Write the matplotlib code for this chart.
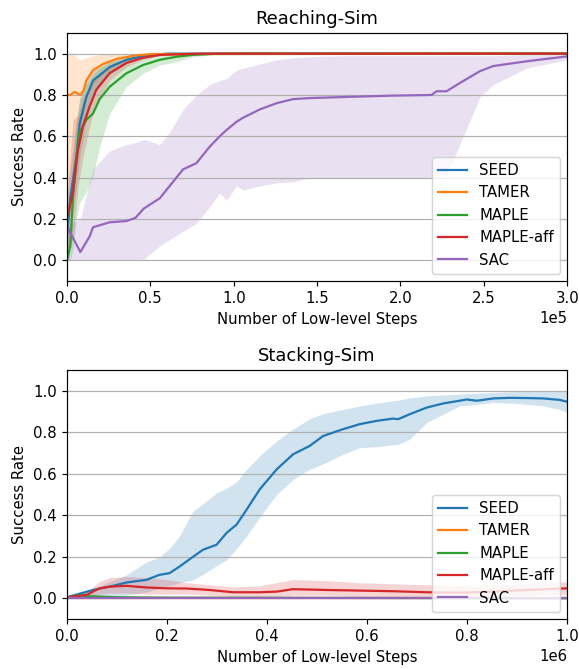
import matplotlib
matplotlib.use("Agg")
import matplotlib.pyplot as plt

labels = ["SEED", "TAMER", "MAPLE", "MAPLE-aff", "SAC"]
colors = ["tab:blue", "tab:orange", "tab:green", "tab:red", "tab:purple"]

# ---- Reaching-Sim (x in units of 1e5 steps) ----
reach_seed_x = [0, 0.02, 0.056, 0.076, 0.116, 0.156, 0.256, 0.356, 0.456, 0.6, 3.0]
reach_seed_mean = [0.12, 0.3, 0.5, 0.66, 0.79, 0.87, 0.935, 0.97, 0.99, 1.0, 1.0]
reach_seed_lo = [0.0, 0.15, 0.35, 0.5, 0.68, 0.8, 0.9, 0.95, 0.98, 0.995, 1.0]
reach_seed_hi = [0.3, 0.45, 0.65, 0.78, 0.87, 0.92, 0.96, 0.985, 0.997, 1.0, 1.0]

reach_tamer_x = [0, 0.02, 0.046, 0.08, 0.1, 0.116, 0.156, 0.216, 0.3, 0.4, 0.5, 3.0]
reach_tamer_mean = [0.80, 0.80, 0.815, 0.80, 0.823, 0.87, 0.92, 0.95, 0.975, 0.99, 0.998, 1.0]
reach_tamer_lo = [0.0, 0.3, 0.55, 0.65, 0.72, 0.78, 0.85, 0.9, 0.95, 0.98, 0.996, 1.0]
reach_tamer_hi = [1.0, 1.0, 0.99, 0.97, 0.975, 0.98, 0.99, 0.995, 1.0, 1.0, 1.0, 1.0]

reach_maple_x = [0, 0.02, 0.036, 0.056, 0.076, 0.116, 0.156, 0.196, 0.256, 0.356,
                 0.456, 0.556, 0.656, 0.756, 0.9, 3.0]
reach_maple_mean = [0.0, 0.07, 0.31, 0.49, 0.62, 0.68, 0.71, 0.78, 0.84, 0.905,
                    0.945, 0.97, 0.985, 0.994, 1.0, 1.0]
reach_maple_lo = [0.0, 0.0, 0.05, 0.2, 0.28, 0.33, 0.41, 0.55, 0.71, 0.84,
                  0.905, 0.945, 0.96, 0.985, 0.998, 1.0]
reach_maple_hi = [0.0, 0.25, 0.5, 0.68, 0.78, 0.85, 0.9, 0.93, 0.96, 0.98,
                  0.99, 0.995, 1.0, 1.0, 1.0, 1.0]

reach_aff_x = [0, 0.036, 0.066, 0.096, 0.136, 0.176, 0.256, 0.356, 0.456, 0.556, 0.8, 3.0]
reach_aff_mean = [0.2, 0.33, 0.535, 0.65, 0.745, 0.826, 0.906, 0.955, 0.98, 0.994, 1.0, 1.0]
reach_aff_lo = [0.05, 0.1, 0.35, 0.5, 0.65, 0.76, 0.87, 0.935, 0.97, 0.99, 1.0, 1.0]
reach_aff_hi = [0.3, 0.68, 0.7, 0.78, 0.84, 0.89, 0.94, 0.975, 0.99, 0.998, 1.0, 1.0]

reach_sac_x = [0, 0.08, 0.136, 0.156, 0.256, 0.356, 0.41, 0.46, 0.556, 0.616, 0.696,
               0.776, 0.856, 0.916, 0.956, 1.016, 1.056, 1.156, 1.256, 1.356, 1.456,
               1.656, 1.956, 2.186, 2.216, 2.276, 2.356, 2.476, 2.556, 2.756, 3.0]
reach_sac_mean = [0.165, 0.04, 0.116, 0.16, 0.184, 0.19, 0.205, 0.25, 0.30, 0.36, 0.44,
                  0.47, 0.55, 0.60, 0.63, 0.67, 0.69, 0.73, 0.76, 0.78, 0.785,
                  0.79, 0.797, 0.80, 0.818, 0.818, 0.858, 0.915, 0.94, 0.963, 0.987]
reach_sac_lo = [0.0, 0.0, 0.0, 0.0, 0.0, 0.0, 0.0, 0.005, 0.07, 0.10, 0.14,
                0.18, 0.26, 0.325, 0.29, 0.36, 0.34, 0.36, 0.374, 0.38, 0.40,
                0.40, 0.40, 0.40, 0.40, 0.41, 0.56, 0.79, 0.85, 0.93, 0.97]
reach_sac_hi = [0.17, 0.2, 0.38, 0.44, 0.53, 0.56, 0.57, 0.585, 0.56, 0.62, 0.73,
                0.8, 0.85, 0.87, 0.88, 0.92, 0.93, 0.95, 0.97, 0.98, 0.985,
                0.99, 0.99, 0.99, 0.99, 0.99, 0.99, 0.99, 0.99, 0.995, 0.995]

# ---- Stacking-Sim (x in units of 1e6 steps) ----
stack_seed_x = [0, 0.052, 0.085, 0.119, 0.159, 0.185, 0.205, 0.225, 0.252, 0.272, 0.299,
                0.319, 0.339, 0.359, 0.385, 0.419, 0.452, 0.485, 0.512, 0.552, 0.585,
                0.619, 0.652, 0.662, 0.685, 0.719, 0.752, 0.785, 0.799, 0.819, 0.852,
                0.885, 0.919, 0.952, 0.985, 1.0]
stack_seed_mean = [0.005, 0.04, 0.056, 0.076, 0.089, 0.113, 0.121, 0.153, 0.20, 0.234, 0.258,
                   0.315, 0.355, 0.427, 0.524, 0.621, 0.694, 0.734, 0.782, 0.815, 0.839,
                   0.855, 0.866, 0.863, 0.887, 0.919, 0.939, 0.952, 0.958, 0.952, 0.963,
                   0.966, 0.965, 0.963, 0.956, 0.947]
stack_seed_lo = [0.0, 0.0, 0.005, 0.015, 0.03, 0.048, 0.06, 0.075, 0.089, 0.115, 0.157,
                 0.185, 0.24, 0.3, 0.39, 0.5, 0.573, 0.621, 0.648, 0.694, 0.726,
                 0.73, 0.74, 0.742, 0.766, 0.847, 0.887, 0.927, 0.93, 0.935, 0.944,
                 0.94, 0.935, 0.927, 0.91, 0.895]
stack_seed_hi = [0.01, 0.045, 0.08, 0.113, 0.175, 0.2, 0.24, 0.3, 0.42, 0.455, 0.508,
                 0.53, 0.56, 0.621, 0.686, 0.758, 0.815, 0.865, 0.89, 0.91, 0.927,
                 0.94, 0.952, 0.955, 0.965, 0.976, 0.98, 0.984, 0.986, 0.988, 0.992,
                 0.995, 0.997, 0.997, 0.997, 0.997]

stack_zero_x = [0, 1.0]
stack_zero = [0.0, 0.0]

stack_maple_x = [0, 0.02, 0.04, 0.1, 0.2, 0.5, 1.0]
stack_maple_mean = [0.0, 0.015, 0.01, 0.005, 0.003, 0.002, 0.0]
stack_maple_lo = [0.0, 0.0, 0.0, 0.0, 0.0, 0.0, 0.0]
stack_maple_hi = [0.0, 0.025, 0.02, 0.01, 0.006, 0.004, 0.0]

stack_aff_x = [0, 0.039, 0.065, 0.085, 0.119, 0.159, 0.199, 0.239, 0.285, 0.332, 0.385,
               0.419, 0.452, 0.519, 0.585, 0.652, 0.719, 0.785, 0.852, 0.919, 1.0]
stack_aff_mean = [0.005, 0.016, 0.048, 0.056, 0.06, 0.052, 0.048, 0.047, 0.04, 0.029, 0.029,
                  0.032, 0.044, 0.04, 0.037, 0.034, 0.029, 0.027, 0.032, 0.04, 0.048]
stack_aff_lo = [0.0, 0.005, 0.02, 0.025, 0.025, 0.02, 0.02, 0.02, 0.015, 0.01, 0.01,
                0.01, 0.015, 0.015, 0.01, 0.01, 0.01, 0.008, 0.01, 0.015, 0.02]
stack_aff_hi = [0.01, 0.03, 0.08, 0.1, 0.105, 0.1, 0.09, 0.075, 0.065, 0.055, 0.06,
                0.075, 0.09, 0.085, 0.075, 0.07, 0.065, 0.06, 0.065, 0.07, 0.08]


def draw_panel(ax, series, scale, xmax, title):
    for (x, mean, lo, hi), label, color in zip(series, labels, colors):
        xs = [v * scale for v in x]
        ax.fill_between(xs, lo, hi, color=color, alpha=0.2, linewidth=0)
        ax.plot(xs, mean, color=color, label=label, linewidth=1.5)
    ax.set_xlim(0, xmax)
    ax.set_ylim(-0.1, 1.1)
    ax.grid(axis='y')
    ax.ticklabel_format(style='sci', axis='x', scilimits=(0, 0))
    ax.set_title(title)
    ax.set_xlabel('Number of Low-level Steps')
    ax.set_ylabel('Success Rate')
    ax.legend(loc='lower right')


def main():
    # reference looks like it was drawn slightly larger, so bump the dpi
    dpi = 107
    fig = plt.figure(figsize=(579 / dpi, 669 / dpi), dpi=dpi)
    ax1 = fig.add_axes([0.1157, 0.580, 0.864, 0.3707])
    ax2 = fig.add_axes([0.1157, 0.0747, 0.864, 0.3722])

    reach = [
        (reach_seed_x, reach_seed_mean, reach_seed_lo, reach_seed_hi),
        (reach_tamer_x, reach_tamer_mean, reach_tamer_lo, reach_tamer_hi),
        (reach_maple_x, reach_maple_mean, reach_maple_lo, reach_maple_hi),
        (reach_aff_x, reach_aff_mean, reach_aff_lo, reach_aff_hi),
        (reach_sac_x, reach_sac_mean, reach_sac_lo, reach_sac_hi),
    ]
    stack = [
        (stack_seed_x, stack_seed_mean, stack_seed_lo, stack_seed_hi),
        (stack_zero_x, stack_zero, stack_zero, stack_zero),
        (stack_maple_x, stack_maple_mean, stack_maple_lo, stack_maple_hi),
        (stack_aff_x, stack_aff_mean, stack_aff_lo, stack_aff_hi),
        (stack_zero_x, stack_zero, stack_zero, stack_zero),
    ]

    draw_panel(ax1, reach, 1e5, 3e5, 'Reaching-Sim')
    draw_panel(ax2, stack, 1e6, 1e6, 'Stacking-Sim')

    fig.savefig('out.png', dpi=dpi)


if __name__ == "__main__":
    main()
